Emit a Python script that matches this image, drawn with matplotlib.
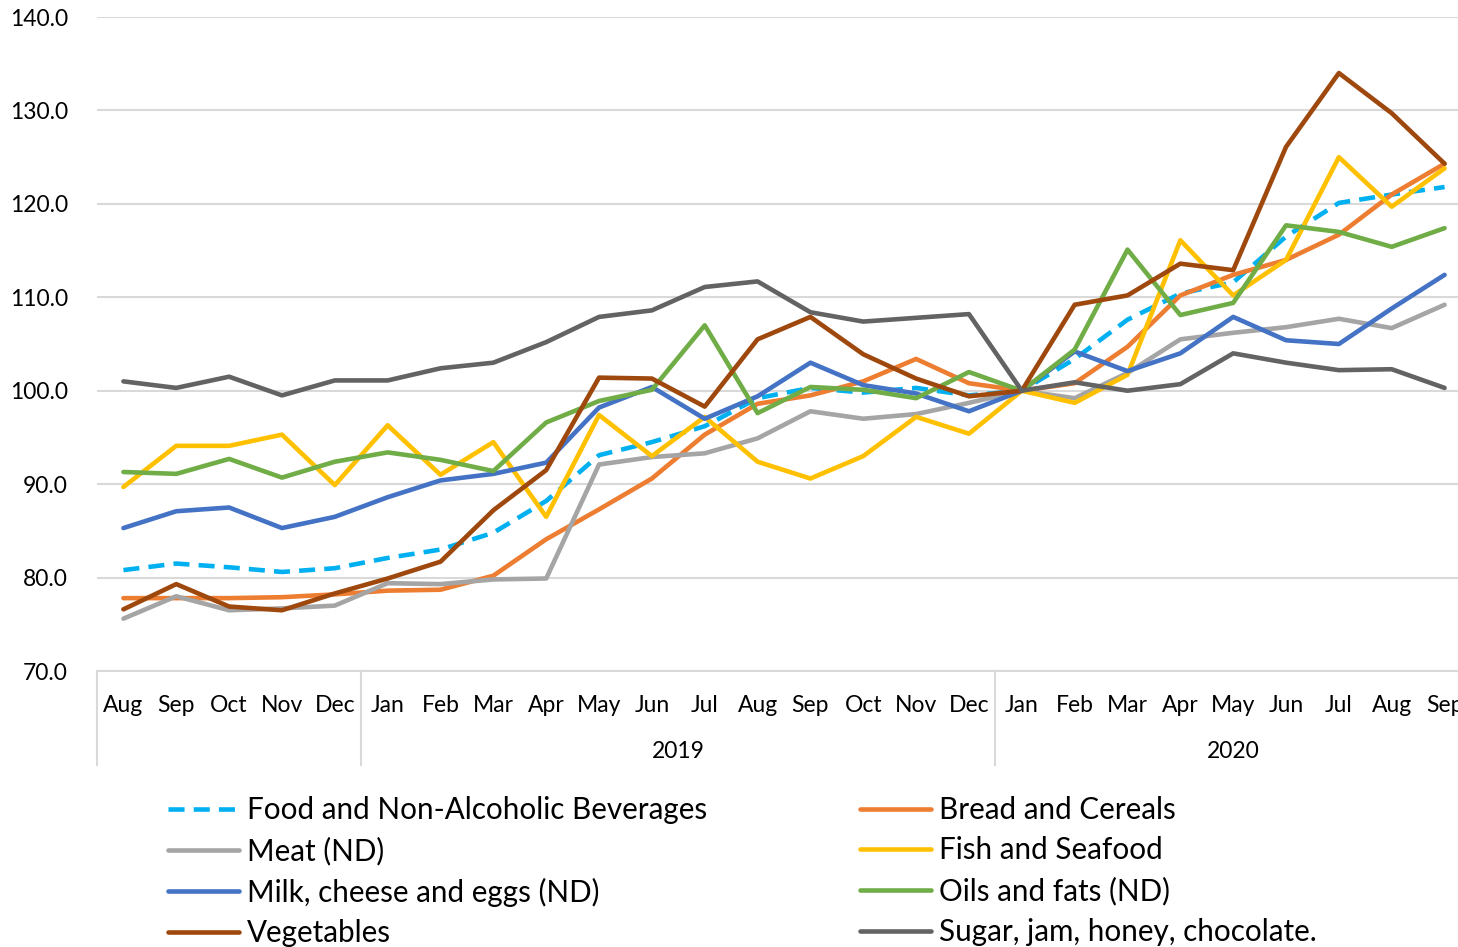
import numpy as np
import matplotlib
matplotlib.use("Agg")
import matplotlib.pyplot as plt
import matplotlib.transforms as mtransforms

plt.rcParams['font.family'] = ['Lato', 'DejaVu Sans']

months = ['Aug', 'Sep', 'Oct', 'Nov', 'Dec',
          'Jan', 'Feb', 'Mar', 'Apr', 'May', 'Jun', 'Jul', 'Aug', 'Sep', 'Oct', 'Nov', 'Dec',
          'Jan', 'Feb', 'Mar', 'Apr', 'May', 'Jun', 'Jul', 'Aug', 'Sep']
years = ['', '2019', '2020']
year_spans = [(0, 4), (5, 16), (17, 25)]

food = [80.8, 81.5, 81.1, 80.6, 81.0, 82.1, 83.0, 84.8, 88.2, 93.1, 94.5, 96.2, 99.2,
        100.3, 99.8, 100.3, 99.5, 100.0, 103.4, 107.6, 110.4, 111.6, 116.5, 120.1, 121.0, 121.8]
bread = [77.8, 77.8, 77.8, 77.9, 78.2, 78.6, 78.7, 80.2, 84.1, 87.3, 90.6, 95.3, 98.6,
         99.5, 101.0, 103.4, 100.8, 100.0, 100.8, 104.7, 110.2, 112.4, 114.0, 116.7, 121.0, 124.3]
meat = [75.6, 78.0, 76.5, 76.7, 77.0, 79.4, 79.3, 79.8, 79.9, 92.1, 92.9, 93.3, 94.9,
        97.8, 97.0, 97.5, 98.7, 100.0, 99.2, 101.9, 105.5, 106.2, 106.8, 107.7, 106.7, 109.2]
fish = [89.7, 94.1, 94.1, 95.3, 89.9, 96.3, 91.0, 94.5, 86.5, 97.4, 93.0, 97.2, 92.4,
        90.6, 93.0, 97.2, 95.4, 100.0, 98.7, 101.7, 116.1, 110.2, 114.0, 125.0, 119.7, 123.8]
milk = [85.3, 87.1, 87.5, 85.3, 86.5, 88.6, 90.4, 91.1, 92.3, 98.2, 100.4, 97.0, 99.4,
        103.0, 100.6, 99.7, 97.8, 100.0, 104.2, 102.1, 104.0, 107.9, 105.4, 105.0, 108.8, 112.4]
oils = [91.3, 91.1, 92.7, 90.7, 92.4, 93.4, 92.6, 91.4, 96.6, 98.9, 100.1, 107.0, 97.6,
        100.4, 100.1, 99.2, 102.0, 100.0, 104.4, 115.1, 108.1, 109.4, 117.7, 117.0, 115.4, 117.4]
veg = [76.6, 79.3, 76.9, 76.5, 78.3, 79.9, 81.7, 87.2, 91.5, 101.4, 101.3, 98.3, 105.5,
       107.9, 103.9, 101.3, 99.4, 100.0, 109.2, 110.2, 113.6, 112.9, 126.1, 134.0, 129.7, 124.3]
sugar = [101.0, 100.3, 101.5, 99.5, 101.1, 101.1, 102.4, 103.0, 105.2, 107.9, 108.6, 111.1, 111.7,
         108.4, 107.4, 107.8, 108.2, 100.0, 100.9, 100.0, 100.7, 104.0, 103.0, 102.2, 102.3, 100.3]

series = [
    ('Food and Non-Alcoholic Beverages', food, '#00B0F0', 'dash'),
    ('Bread and Cereals', bread, '#ED7D31', 'solid'),
    ('Meat (ND)', meat, '#A5A5A5', 'solid'),
    ('Fish and Seafood', fish, '#FFC000', 'solid'),
    ('Milk, cheese and eggs (ND)', milk, '#4472C4', 'solid'),
    ('Oils and fats (ND)', oils, '#70AD47', 'solid'),
    ('Vegetables', veg, '#9E480E', 'solid'),
    ('Sugar, jam, honey, chocolate.', sugar, '#636363', 'solid'),
]

W, H = 1458, 947
fig = plt.figure(figsize=(W / 100, H / 100), dpi=100)
# plot area runs a little past the right edge, as in the reference
ax = fig.add_axes([97 / W, 1 - 671 / H, (1471 - 97) / W, (671 - 17) / H])

grid_c = '#D9D9D9'
x = np.arange(len(months))
handles = []
for name, vals, col, style in series:
    if style == 'dash':
        ln, = ax.plot(x, vals, color=col, lw=3.3, dashes=(3.5, 2),
                      dash_capstyle='butt', label=name, zorder=3)
    else:
        ln, = ax.plot(x, vals, color=col, lw=3.3, solid_capstyle='round',
                      solid_joinstyle='round', label=name, zorder=3)
    handles.append(ln)

ax.set_xlim(-0.5, len(months) - 0.5)
ax.set_ylim(70, 140)
ax.set_yticks(np.arange(70, 141, 10))
ax.set_yticklabels([f'{v:.1f}' for v in np.arange(70, 141, 10)])
ax.yaxis.grid(True, color=grid_c, lw=1.5)
ax.set_axisbelow(True)
for s in ['top', 'right', 'left']:
    ax.spines[s].set_visible(False)
ax.spines['bottom'].set_color(grid_c)
ax.spines['bottom'].set_linewidth(1.5)

ax.set_xticks(x)
ax.set_xticklabels(months)
ax.tick_params(axis='x', length=0, pad=17, labelsize=16.5)
ax.tick_params(axis='y', length=0, pad=21, labelsize=16.5)

# two-level category axis: separators and year labels
trans = mtransforms.blended_transform_factory(ax.transData, ax.transAxes)
sep_bottom = -(765 - 671) / (671 - 17)
for xs in [-0.5, 4.5, 16.5]:
    ax.plot([xs, xs], [0, sep_bottom], color=grid_c, lw=1.5, transform=trans, clip_on=False)
for lab, (a, b) in zip(years, year_spans):
    if lab:
        ax.text((a + b) / 2, -(751 - 671) / (671 - 17), lab, transform=trans,
                ha='center', va='center', fontsize=16.5)

# legend: two columns laid out row by row
col1 = handles[0::2]
col2 = handles[1::2]
kw = dict(frameon=False, fontsize=21.3, handlelength=2.4, handletextpad=0.27,
          labelspacing=0.42, borderpad=0, borderaxespad=0, loc='upper left')
leg1 = fig.legend(handles=col1, bbox_to_anchor=(168 / W, 1 - 796 / H), **kw)
leg2 = fig.legend(handles=col2, bbox_to_anchor=(860 / W, 1 - 796 / H), **kw)

fig.savefig('out.png', dpi=100)
